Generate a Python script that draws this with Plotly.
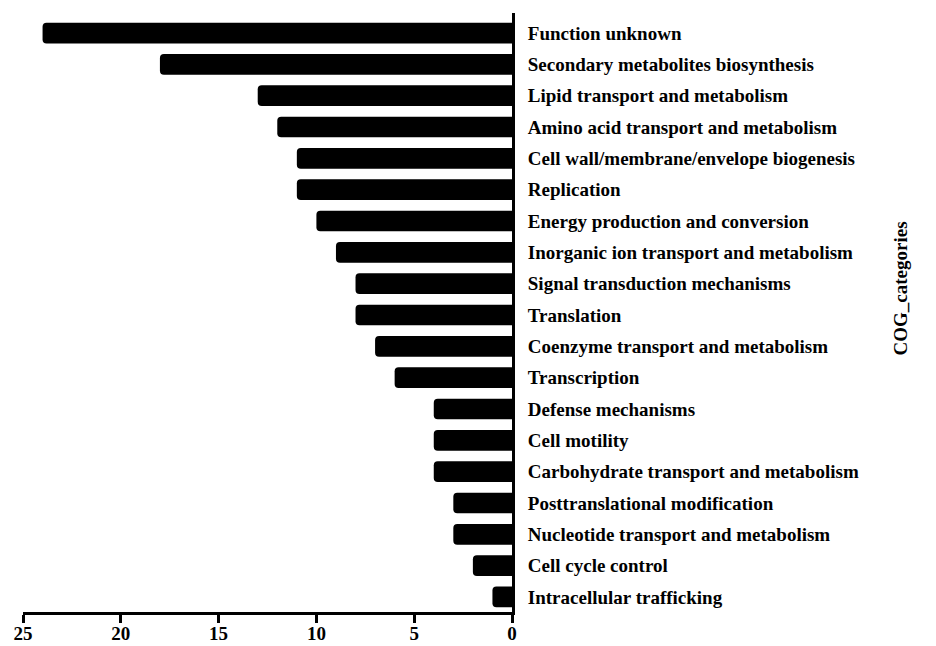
import plotly.graph_objects as go

categories = [
    "Function unknown",
    "Secondary metabolites biosynthesis",
    "Lipid transport and metabolism",
    "Amino acid transport and metabolism",
    "Cell wall/membrane/envelope biogenesis",
    "Replication",
    "Energy production and conversion",
    "Inorganic ion transport and metabolism",
    "Signal transduction mechanisms",
    "Translation",
    "Coenzyme transport and metabolism",
    "Transcription",
    "Defense mechanisms",
    "Cell motility",
    "Carbohydrate transport and metabolism",
    "Posttranslational modification",
    "Nucleotide transport and metabolism",
    "Cell cycle control",
    "Intracellular trafficking",
]
counts = [24, 18, 13, 12, 11, 11, 10, 9, 8, 8, 7, 6, 4, 4, 4, 3, 3, 2, 1]
x_ticks = [25, 20, 15, 10, 5, 0]
axis_title = "COG_categories"

FONT = "Liberation Serif"

fig = go.Figure(
    go.Bar(
        x=counts,
        y=categories,
        orientation="h",
        width=0.66,
        marker=dict(color="black", line=dict(width=0), cornerradius=4),
    )
)

fig.update_layout(
    width=928,
    height=638,
    margin=dict(l=15, r=424, t=5, b=34, autoexpand=False),
    plot_bgcolor="white",
    paper_bgcolor="white",
    showlegend=False,
    xaxis=dict(
        range=[25, 0],
        tickvals=x_ticks,
        ticktext=[str(v) for v in x_ticks],
        showline=True,
        linecolor="black",
        linewidth=3,
        ticks="outside",
        ticklen=8,
        tickwidth=3,
        tickcolor="black",
        showgrid=False,
        zeroline=False,
        automargin=False,
        ticklabelstandoff=-6,
        tickfont=dict(family=FONT, size=19, weight="bold", color="black"),
    ),
    yaxis=dict(
        side="right",
        type="category",
        categoryorder="array",
        categoryarray=categories,
        range=[18.48, -0.64],
        showline=True,
        linecolor="black",
        linewidth=3,
        ticks="",
        showgrid=False,
        zeroline=False,
        automargin=False,
        ticklabelstandoff=9,
        tickfont=dict(family=FONT, size=19, weight="bold", color="black"),
    ),
    annotations=[
        dict(
            text=axis_title,
            xref="paper",
            yref="paper",
            x=1.82,
            y=0.541,
            textangle=-90,
            showarrow=False,
            font=dict(family=FONT, size=19, weight="bold", color="black"),
        )
    ],
)

fig.write_html("out.html")
